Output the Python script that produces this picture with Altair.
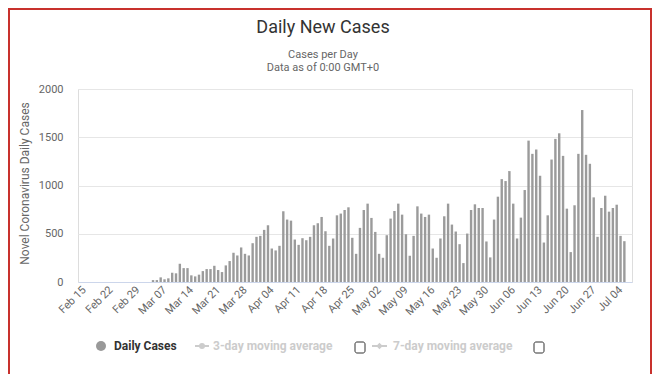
import altair as alt
import pandas as pd

# ---------------- data ----------------
start_date = "2020-03-04"
daily_cases = [
    20, 20, 48, 28, 38, 96, 90, 189, 144, 144,
    69, 58, 76, 113, 134, 134, 168, 124, 103, 172,
    217, 303, 275, 358, 292, 275, 402, 468, 478, 540,
    588, 347, 327, 375, 733, 647, 636, 440, 385, 454,
    433, 468, 588, 609, 674, 526, 375, 451, 691,
    709, 746, 774, 458, 292, 561, 746, 812, 664, 519,
    292, 251, 485, 657, 736, 812, 698, 495, 272, 478,
    784, 709, 674, 698, 347, 251, 451, 681, 812, 595,
    523, 392, 196, 502, 746, 805, 767, 767, 420, 255,
    647, 884, 1066, 1046, 1149, 812, 451, 667, 953, 1465,
    1328, 1373, 1101, 409, 691, 1269, 1483, 1541, 1307, 760,
    310, 795, 1328, 1782, 1318, 1225, 877, 468, 767, 894,
    729, 767, 801, 478, 423,
]
y_ticks = [0, 500, 1000, 1500, 2000]
x_tick_dates = [
    "2020-02-15", "2020-02-22", "2020-02-29", "2020-03-07", "2020-03-14",
    "2020-03-21", "2020-03-28", "2020-04-04", "2020-04-11", "2020-04-18",
    "2020-04-25", "2020-05-02", "2020-05-09", "2020-05-16", "2020-05-23",
    "2020-05-30", "2020-06-06", "2020-06-13", "2020-06-20", "2020-06-27",
    "2020-07-04",
]
legend_labels = ["Daily Cases", "3-day moving average", "7-day moving average"]
title_text = "Daily New Cases"
subtitle_lines = ["Cases per Day", "Data as of 0:00 GMT+0"]
y_title = "Novel Coronavirus Daily Cases"

dates = pd.date_range(start_date, periods=len(daily_cases), freq="D").strftime("%Y-%m-%d")
df = pd.DataFrame({"date": list(dates), "cases": daily_cases})


def ms(s):
    return int(pd.Timestamp(s, tz="UTC").timestamp() * 1000)


tick_ms = [ms(d) for d in x_tick_dates]
x_domain = [ms("2020-02-14T17:30:00"), ms("2020-07-05T16:30:00")]

FONT = "Roboto"
W, H = 554, 193

bars = alt.Chart(df).mark_bar(size=2.4, color="#9b9b9b").encode(
    x=alt.X(
        "date:T",
        scale=alt.Scale(type="utc", domain=x_domain, nice=False),
        axis=alt.Axis(
            values=tick_ms,
            labelExpr="utcFormat(datum.value, '%b %d')",
            labelAngle=-45,
            labelAlign="right",
            labelBaseline="middle",
            labelPadding=6,
            labelFont=FONT,
            labelFontSize=11,
            labelColor="#666666",
            ticks=False,
            grid=False,
            domainColor="#ccd6eb",
            title=None,
            labelOverlap=False,
        ),
    ),
    y=alt.Y(
        "cases:Q",
        scale=alt.Scale(domain=[0, 2000], nice=False),
        axis=alt.Axis(
            values=y_ticks,
            format="d",
            grid=True,
            gridColor="#e6e6e6",
            domain=False,
            ticks=False,
            labelPadding=15,
            labelFont=FONT,
            labelFontSize=11,
            labelColor="#666666",
            title=y_title,
            titleFont=FONT,
            titleFontSize=12,
            titleFontWeight="normal",
            titleColor="#666666",
            titleX=-54,
            titleY=94,
            titleAngle=-90,
            titleAlign="center",
            titleBaseline="middle",
        ),
    ),
)


def one(label):
    return pd.DataFrame({"label": [label]})


# title and subtitle (centred over the whole chart)
TX = 245
title_layers = [
    alt.Chart(one(title_text)).mark_text(align="center", baseline="middle", font=FONT, fontSize=18, color="#333333").encode(
        x=alt.value(TX), y=alt.value(-61), text="label:N"),
    alt.Chart(one(subtitle_lines[0])).mark_text(align="center", baseline="middle", font=FONT, fontSize=11, color="#666666").encode(
        x=alt.value(TX), y=alt.value(-34), text="label:N"),
    alt.Chart(one(subtitle_lines[1])).mark_text(align="center", baseline="middle", font=FONT, fontSize=11, color="#666666").encode(
        x=alt.value(TX), y=alt.value(-21), text="label:N"),
]

LY = 257
leg_layers = [
    alt.Chart(one(legend_labels[0])).mark_point(filled=True, shape="circle", size=100, color="#999999", opacity=1).encode(
        x=alt.value(23), y=alt.value(LY)),
    alt.Chart(one(legend_labels[0])).mark_text(align="left", baseline="middle", font=FONT, fontSize=12, fontWeight="bold", color="#333333").encode(
        x=alt.value(36), y=alt.value(LY), text="label:N"),
    alt.Chart(one(legend_labels[1])).mark_rule(color="#cccccc", strokeWidth=2).encode(
        x=alt.value(117), x2=alt.value(131), y=alt.value(LY)),
    alt.Chart(one(legend_labels[1])).mark_point(filled=True, shape="circle", size=36, color="#cccccc", opacity=1).encode(
        x=alt.value(124), y=alt.value(LY)),
    alt.Chart(one(legend_labels[1])).mark_text(align="left", baseline="middle", font=FONT, fontSize=12, fontWeight="bold", color="#cccccc").encode(
        x=alt.value(135), y=alt.value(LY), text="label:N"),
    alt.Chart(one("box1")).mark_rect(fill="white", stroke="#333333", strokeWidth=1, cornerRadius=2).encode(
        x=alt.value(277), x2=alt.value(287), y=alt.value(253), y2=alt.value(264)),
    alt.Chart(one(legend_labels[2])).mark_rule(color="#cccccc", strokeWidth=2).encode(
        x=alt.value(294), x2=alt.value(309), y=alt.value(LY)),
    alt.Chart(one(legend_labels[2])).mark_point(filled=True, shape="diamond", size=40, color="#cccccc", opacity=1).encode(
        x=alt.value(301.5), y=alt.value(LY)),
    alt.Chart(one(legend_labels[2])).mark_text(align="left", baseline="middle", font=FONT, fontSize=12, fontWeight="bold", color="#cccccc").encode(
        x=alt.value(315), y=alt.value(LY), text="label:N"),
    alt.Chart(one("box2")).mark_rect(fill="white", stroke="#333333", strokeWidth=1, cornerRadius=2).encode(
        x=alt.value(456), x2=alt.value(466), y=alt.value(253), y2=alt.value(264)),
]

BORDER = "#c8312d"
border_layers = [
    alt.Chart(one("top")).mark_rule(color=BORDER, strokeWidth=2).encode(
        x=alt.value(-70), x2=alt.value(574), y=alt.value(-80)),
    alt.Chart(one("left")).mark_rule(color=BORDER, strokeWidth=2).encode(
        x=alt.value(-69), y=alt.value(-81), y2=alt.value(285)),
    alt.Chart(one("right")).mark_rule(color=BORDER, strokeWidth=2).encode(
        x=alt.value(573), y=alt.value(-81), y2=alt.value(285)),
]

chart = alt.layer(bars, *title_layers, *leg_layers, *border_layers).properties(
    width=W,
    height=H,
    autosize=alt.AutoSizeParams(type="none"),
    padding={"left": 70, "top": 81, "right": 20, "bottom": 92},
).configure_view(stroke=None).configure(background="white")

chart.save("out.html", embed_options={"renderer": "svg", "actions": False})
